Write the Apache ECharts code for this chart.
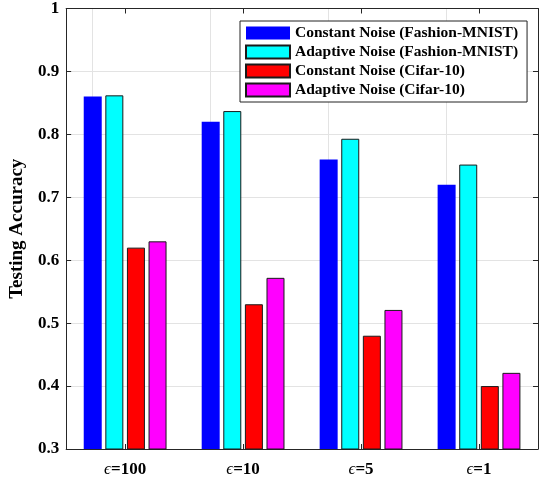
<!DOCTYPE html>
<html>
<head>
<meta charset="utf-8">
<script src="https://cdn.jsdelivr.net/npm/echarts@6/dist/echarts.min.js"></script>
<style>html,body{margin:0;padding:0;background:#fff;}#c{width:545px;height:478px;}</style>
</head>
<body>
<div id="c"></div>
<script>
const categories = ['ϵ=100', 'ϵ=10', 'ϵ=5', 'ϵ=1'];
const seriesNames = ['Constant Noise (Fashion-MNIST)', 'Adaptive Noise (Fashion-MNIST)', 'Constant Noise (Cifar-10)', 'Adaptive Noise (Cifar-10)'];
const constantFashion = [0.86, 0.82, 0.76, 0.72];
const adaptiveFashion = [0.862, 0.837, 0.793, 0.752];
const constantCifar = [0.62, 0.53, 0.48, 0.40];
const adaptiveCifar = [0.63, 0.572, 0.521, 0.421];
const yTicks = {min: 0.3, max: 1, interval: 0.1};

const colors = ['#0000ff', '#00ffff', '#ff0000', '#ff00ff'];
const allData = [constantFashion, adaptiveFashion, constantCifar, adaptiveCifar];
const serif = "'Liberation Serif', 'DejaVu Serif', serif";
const axisCol = '#262626';
const gridCol = '#e3e3e3';

const chart = echarts.init(document.getElementById('c'));
chart.setOption({
  animation: false,
  backgroundColor: '#fff',
  grid: {left: 62, right: 7, top: 7, bottom: 27},
  legend: {
    orient: 'vertical', left: 240, top: 21,
    itemWidth: 44, itemHeight: 13, itemGap: 3,
    icon: 'rect',
    borderColor: '#222', borderWidth: 1, backgroundColor: '#fff',
    padding: [4, 9, 4, 5],
    textStyle: {fontFamily: serif, fontWeight: 'bold', fontSize: 15.5, color: '#000'},
    data: seriesNames
  },
  xAxis: [{
    type: 'category', data: categories, position: 'bottom',
    axisLine: {show: true, lineStyle: {color: axisCol, width: 1}},
    axisTick: {show: true, inside: true, length: 5, alignWithLabel: true, lineStyle: {color: axisCol}},
    splitLine: {show: false},
    axisLabel: {
      margin: 12,
      formatter: v => '{e|' + v.charAt(0) + '}{n|' + v.slice(1) + '}',
      rich: {
        e: {fontFamily: serif, fontStyle: 'italic', fontWeight: 'normal', fontSize: 17, color: '#000'},
        n: {fontFamily: serif, fontWeight: 'bold', fontSize: 17, color: '#000'}
      }
    }
  }, {
    type: 'category', data: categories, position: 'top',
    axisLine: {show: true, lineStyle: {color: axisCol, width: 1}},
    axisTick: {show: true, inside: true, length: 5, alignWithLabel: true, lineStyle: {color: axisCol}},
    axisLabel: {show: false}, splitLine: {show: false}
  }],
  yAxis: [{
    type: 'value', min: yTicks.min, max: yTicks.max, interval: yTicks.interval,
    name: 'Testing Accuracy', nameLocation: 'middle', nameGap: 38,
    nameTextStyle: {fontFamily: serif, fontWeight: 'bold', fontSize: 19, color: '#000'},
    axisLine: {show: true, lineStyle: {color: axisCol, width: 1}},
    axisTick: {show: true, inside: true, length: 5, lineStyle: {color: axisCol}},
    splitLine: {show: true, lineStyle: {color: gridCol, width: 1}},
    axisLabel: {
      margin: 7, fontFamily: serif, fontWeight: 'bold', fontSize: 17, color: '#000',
      formatter: v => (Math.round(v * 10) / 10).toString()
    }
  }, {
    type: 'value', min: yTicks.min, max: yTicks.max, interval: yTicks.interval, position: 'right',
    axisLine: {show: true, lineStyle: {color: axisCol, width: 1}},
    axisTick: {show: true, inside: true, length: 5, lineStyle: {color: axisCol}},
    splitLine: {show: false}, axisLabel: {show: false}
  }],
  series: seriesNames.map((name, i) => ({
    name: name, type: 'bar', xAxisIndex: 0, yAxisIndex: 0,
    data: allData[i], barWidth: 18, barGap: '20%',
    itemStyle: {color: colors[i], borderColor: i === 0 ? colors[i] : '#1a1a1a', borderWidth: i === 0 ? 0 : 1},
    markLine: i === 0 ? {
      silent: true, symbol: ['none', 'none'], z: 0,
      label: {show: false},
      lineStyle: {color: gridCol, width: 1, type: 'solid'},
      data: categories.map(c => ({xAxis: c}))
    } : undefined
  }))
});
</script>
</body>
</html>
